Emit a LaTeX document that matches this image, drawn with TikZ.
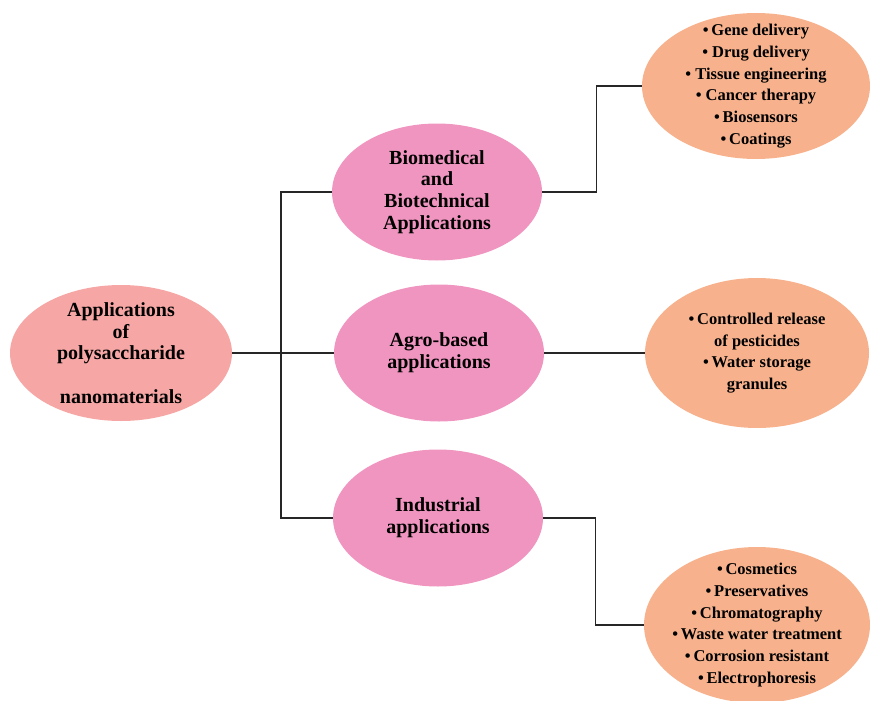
\documentclass[tikz,border=0pt]{standalone}
\usepackage{fontspec}
\setmainfont{Liberation Serif}
\usetikzlibrary{shapes.geometric}

\definecolor{rootpink}{RGB}{246,167,165}
\definecolor{areapink}{RGB}{240,149,192}
\definecolor{usepeach}{RGB}{247,178,141}

\begin{document}
\begin{tikzpicture}[x=1pt, y=-1pt,
        rootbubble/.style={ellipse, fill=rootpink, align=center, minimum width=222pt, minimum height=136pt, inner xsep=0pt, inner ysep=-16pt, font=\bfseries\fontsize{20}{21.7}\selectfont},
        areabubble/.style={ellipse, fill=areapink, align=center, minimum width=210pt, minimum height=137pt, inner sep=0pt, font=\bfseries\fontsize{20}{21.7}\selectfont},
        usebubble/.style={ellipse, fill=usepeach, align=center, minimum width=226pt, inner xsep=-12pt, inner ysep=-18pt, font=\bfseries\fontsize{16.5}{21.7}\selectfont},
        link/.style={draw=black!85, line width=1.4pt}]
        \useasboundingbox (0,0) rectangle (870,701);

        \node[rootbubble] (apps) at (121,353) {Applications\\of\\polysaccharide\\[21.7pt]nanomaterials};

        \node[areabubble] (bio) at (437,192) {Biomedical\\and\\Biotechnical\\Applications};
        \node[areabubble] (agro) at (439,353) {Agro-based\\applications};
        \node[areabubble] (ind) at (438,518) {Industrial\\applications};

        \node[usebubble, minimum width=228pt, minimum height=146pt] (biouses) at (756,86)
            {\textbullet\,Gene delivery\\\textbullet\ Drug delivery\\\textbullet\ Tissue engineering\\\textbullet\ Cancer therapy\\\textbullet\,Biosensors\\\textbullet\,Coatings};
        \node[usebubble, minimum width=224pt, minimum height=150pt] (agrouses) at (757,353)
            {\textbullet\,Controlled release\\of pesticides\\\textbullet\,Water storage\\granules};
        \node[usebubble, minimum width=226pt, minimum height=156pt] (induses) at (757,625)
            {\textbullet\,Cosmetics\\\textbullet\,Preservatives\\\textbullet\,Chromatography\\\textbullet\,Waste water treatment\\\textbullet\,Corrosion resistant\\\textbullet\,Electrophoresis};

        \coordinate (trunk) at (281,353);
        \draw[link] (apps.east) -- (trunk);
        \draw[link] (bio.west) -| (trunk) |- (ind.west);
        \draw[link] (trunk) -- (agro.west);

        \draw[link] (bio.east) -- ++(54,0) |- (biouses.west);
        \draw[link] (agro.east) -- (agrouses.west);
        \draw[link] (ind.east) -- ++(52,0) |- (induses.west);
    \end{tikzpicture}
\end{document}
